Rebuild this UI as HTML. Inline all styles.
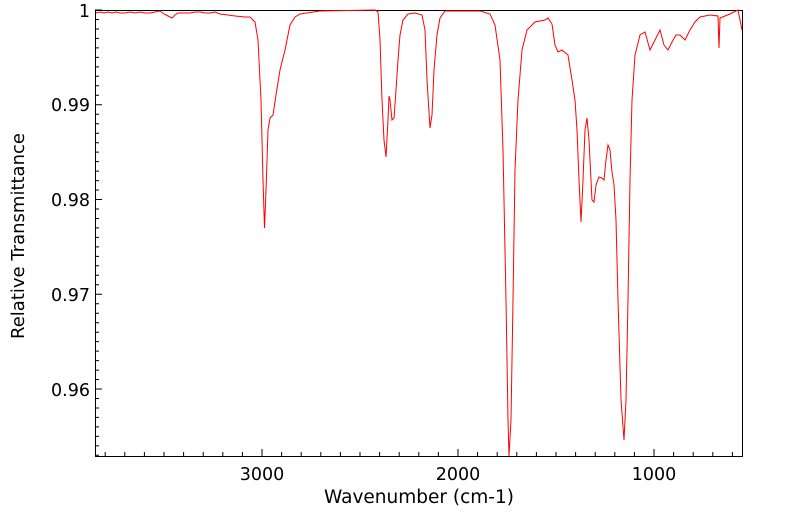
<!DOCTYPE html>
<html><head><style>body{margin:0;background:#fff}svg{display:block}text{font-family:"DejaVu Sans","Liberation Sans",sans-serif;fill:#000}</style></head><body>
<svg width="799" height="516" viewBox="0 0 799 516">
<rect x="95.5" y="10.5" width="647" height="446" fill="none" stroke="#000" stroke-width="1"/>
<path stroke="#000" stroke-width="1" fill="none" d="
M95 10h7 M95 19.5h4 M95 29h4 M95 38.4h4 M95 47.9h4 M95 57.4h4 M95 66.9h4 M95 76.3h4 M95 85.8h4 M95 95.3h4
M95 104.8h7 M95 114.2h4 M95 123.7h4 M95 133.2h4 M95 142.7h4 M95 152.1h4 M95 161.6h4 M95 171.1h4 M95 180.6h4 M95 190h4
M95 199.5h7 M95 209h4 M95 218.5h4 M95 227.9h4 M95 237.4h4 M95 246.9h4 M95 256.4h4 M95 265.8h4 M95 275.3h4 M95 284.8h4
M95 294.3h7 M95 303.7h4 M95 313.2h4 M95 322.7h4 M95 332.2h4 M95 341.6h4 M95 351.1h4 M95 360.6h4 M95 370.1h4 M95 379.5h4
M95 389h7 M95 398.5h4 M95 408h4 M95 417.4h4 M95 426.9h4 M95 436.4h4 M95 445.9h4 M95 455.3h4
M105.2 456v-4 M124.8 456v-4 M144.4 456v-4 M164 456v-4 M183.6 456v-4 M203.2 456v-4 M222.8 456v-4 M242.4 456v-4
M262 456v-7 M281.6 456v-4 M301.2 456v-4 M320.8 456v-4 M340.4 456v-4 M360 456v-4 M379.6 456v-4 M399.2 456v-4 M418.8 456v-4 M438.4 456v-4
M458 456v-7 M477.6 456v-4 M497.2 456v-4 M516.8 456v-4 M536.4 456v-4 M556 456v-4 M575.6 456v-4 M595.2 456v-4 M614.8 456v-4 M634.4 456v-4
M654 456v-7 M673.6 456v-4 M693.2 456v-4 M712.8 456v-4 M732.4 456v-4"/>
<g font-size="17.5">
<text x="90" y="17" text-anchor="end">1</text>
<text x="90" y="111" text-anchor="end">0.99</text>
<text x="90" y="206" text-anchor="end">0.98</text>
<text x="90" y="301" text-anchor="end">0.97</text>
<text x="90" y="396" text-anchor="end">0.96</text>
<text x="262" y="480" text-anchor="middle">3000</text>
<text x="458" y="480" text-anchor="middle">2000</text>
<text x="654" y="480" text-anchor="middle">1000</text>
</g>
<text x="419" y="503" font-size="18.5" text-anchor="middle">Wavenumber (cm-1)</text>
<text transform="translate(24,236) rotate(-90)" font-size="18" text-anchor="middle">Relative Transmittance</text>
<polyline fill="none" stroke="#f00" stroke-width="1" points="96,13 100,12 104,13 108,12 112,13 116,12 120,13 125,13 130,12 135,13 140,12 145,13 150,13 155,12 160,11 164,14 168,16 172,18 175,15 178,13 184,13 190,13 195,12 200,12 205,13 210,13 215,12 220,14 228,15 235,16 245,17 250,17 255,22 258,40 261,100 263,180 264.5,228 266,190 268,130 270,118 273,115 276,95 280,70 285,50 290,25 295,17 300,14 320,11 375,10 378,12 380,40 382,100 384,140 386,157 388,120 389,96 390,100 392,120 394,118 396,90 398,60 400,35 403,20 408,14 415,13 422,15 425,30 427,80 430,128 432,115 434,70 437,35 440,18 445,11 480,11 490,14 495,25 500,60 503,150 506,300 508,420 509,456 511,420 513,300 515,170 518,100 522,50 527,30 535,22 545,20 548,18 552,24 555,45 558,52 562,50 568,55 572,80 575,100 577,130 579,180 581,222 583,180 585,130 587,118 589,140 592,200 594,202 596,185 599,177 602,178 604,180 606,160 608,145 610,150 612,172 614,185 616,220 618,300 621,400 624,440 626,400 628,300 630,180 632,100 635,55 640,35 645,32 650,50 655,40 660,30 664,45 668,50 672,42 676,35 680,35 685,40 690,30 695,22 700,17 710,15 718,16 719,48 720,18 730,14 738,10 742,30"/>
</svg>
</body></html>
